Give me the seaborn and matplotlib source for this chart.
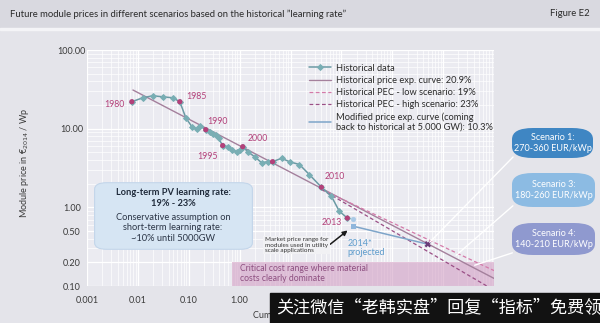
import matplotlib
matplotlib.use("Agg")
import matplotlib.pyplot as plt
import seaborn as sns
from matplotlib.patches import FancyBboxPatch, Rectangle
from matplotlib.ticker import FixedLocator, FixedFormatter, LogLocator, NullFormatter

# ---- data -------------------------------------------------------------
years = list(range(1980, 2014))
cum_gw = [0.0076, 0.0125, 0.0197, 0.0309, 0.0485, 0.0667, 0.0874, 0.115, 0.144, 0.164,
          0.216, 0.258, 0.296, 0.338, 0.387, 0.464, 0.582, 0.697, 0.873, 1.0,
          1.15, 1.44, 1.97, 2.70, 3.54, 4.43, 6.66, 9.56, 15.0, 23.6,
          40.6, 63.7, 91.4, 131.0]
price = [22.0, 24.7, 26.2, 25.4, 24.7, 22.0, 13.8, 10.6, 10.0, 10.9,
         9.7, 9.2, 8.6, 8.2, 7.5, 6.1, 5.9, 5.4, 5.1, 5.4,
         5.9, 5.1, 4.4, 3.7, 3.8, 3.8, 4.2, 3.8, 3.5, 2.6,
         1.8, 1.38, 0.89, 0.73]
marked_years = [1980, 1985, 1990, 1995, 2000, 2005, 2010, 2013]
labelled_years = [1980, 1985, 1990, 1995, 2000, 2010, 2013]

# price experience curves (straight on log-log axes: two end points each)
pec_gw, pec_price = [0.008, 100000], [31.0, 0.125]          # 20.9 %
low_gw, low_price = [40.6, 100000], [1.69, 0.157]           # 19 %
high_gw, high_price = [40.6, 100000], [1.69, 0.0885]        # 23 %
mod_gw, mod_price = [172, 5000], [0.575, 0.34]              # 10.3 %
proj_gw, proj_price = [172, 172], [0.72, 0.575]             # 2014* market range

band_gw = [0.7, 100000]
band_lo, band_hi = 0.1, 0.2

x_ticks = [1e-3, 1e-2, 1e-1, 1, 10, 100, 1000, 10000, 100000]
x_labels = ["0.001", "0.01", "0.10", "1.00", "", "", "", "", ""]
y_ticks = [0.1, 0.2, 0.5, 1, 10, 100]
y_labels = ["0.10", "0.20", "0.50", "1.00", "10.00", "100.00"]

scenarios = [("Scenario 1:\n270-360 EUR/kWp", "#3f86c3", (512, 128, 593, 158), (5000, 0.34)),
             ("Scenario 3:\n180-260 EUR/kWp", "#8cbbe3", (512, 173, 595, 207), (16400, 0.233)),
             ("Scenario 4:\n140-210 EUR/kWp", "#8f99cf", (512, 223, 595, 255), (37000, 0.179))]

# ---- style ------------------------------------------------------------
sns.set_theme(style="darkgrid")
plt.rcParams['font.family'] = ['Lato', 'DejaVu Sans']

W, H = 600, 323
def fx(px):
    return px / W
def fy(py):
    return 1 - py / H

BG = '#e4e4ea'
MAG = '#b3417a'
TEAL = '#79aeb4'

fig = plt.figure(figsize=(6, 3.23), dpi=100, facecolor=BG)

# title strip
fig.patches.append(Rectangle((0, fy(27)), 1, 27 / H, transform=fig.transFigure,
                             color='#d9d9e0', zorder=0))
fig.patches.append(Rectangle((0, fy(29.5)), 1, 2 / H, transform=fig.transFigure,
                             color='#f4f4f7', zorder=0))
fig.text(fx(10), fy(14), 'Future module prices in different scenarios based on the historical \u201dlearning rate\u201d',
         fontsize=6.8, color='#2a2a2a', va='center', ha='left')
fig.text(fx(590), fy(14), 'Figure E2', fontsize=6.8, color='#2a2a2a', va='center', ha='right')

ax = fig.add_axes([fx(87), fy(286), (494 - 87) / W, (286 - 50) / H])
ax.set_facecolor('#ebebf1')
ax.set_xscale('log')
ax.set_yscale('log')

# critical cost band
ax.fill_between(band_gw, band_lo, band_hi, color='#d29fc4', alpha=0.6, lw=0, zorder=1)
ax.text(1.0, 0.188, 'Critical cost range where material\ncosts clearly dominate',
        fontsize=6.2, color='#8d4f80', va='top', ha='left', zorder=2, linespacing=1.15)

# curves
sns.lineplot(x=cum_gw, y=price, ax=ax, color='#6b9aa4', lw=1.1, marker='D', markersize=3,
             markerfacecolor=TEAL, markeredgecolor=TEAL, label='Historical data',
             sort=False, estimator=None, zorder=4)
sns.lineplot(x=pec_gw, y=pec_price, ax=ax, color='#a4809c', lw=1.0,
             label='Historical price exp. curve: 20.9%', zorder=3)
sns.lineplot(x=low_gw, y=low_price, ax=ax, color='#d47aa9', lw=0.9, dashes=(3, 2),
             label='Historical PEC - low scenario: 19%', zorder=3)
sns.lineplot(x=high_gw, y=high_price, ax=ax, color='#9a4f86', lw=0.9, dashes=(3, 2),
             label='Historical PEC - high scenario: 23%', zorder=3)
sns.lineplot(x=mod_gw, y=mod_price, ax=ax, color='#7ea5c9', lw=1.1,
             label='Modified price exp. curve (coming\nback to historical at 5.000 GW): 10.3%', zorder=4)

# year markers
mk_x = [cum_gw[years.index(y)] for y in marked_years]
mk_y = [price[years.index(y)] for y in marked_years]
sns.scatterplot(x=mk_x, y=mk_y, ax=ax, color=MAG, s=14, edgecolor='none', legend=False, zorder=5)
sns.scatterplot(x=[mod_gw[1]], y=[mod_price[1]], ax=ax, color='#6a3a78', marker='X', s=22,
                edgecolor='none', legend=False, zorder=5)
sns.scatterplot(x=[proj_gw[0]], y=[proj_price[0]], ax=ax, color='#a9c9e6', s=12,
                edgecolor='#a9c9e6', legend=False, zorder=5)
sns.scatterplot(x=[proj_gw[1]], y=[proj_price[1]], ax=ax, color='#8fb6dc', marker='s', s=14,
                edgecolor='none', legend=False, zorder=5)

label_offsets = {1980: (-17, 3), 1985: (17, -5), 1990: (12, -8), 1995: (-15, 11),
                 2000: (15, -8), 2010: (13, -11), 2013: (-16, 4)}
for yr in labelled_years:
    dx, dy = label_offsets[yr]
    i = years.index(yr)
    ax.annotate(str(yr), (cum_gw[i], price[i]), xytext=(dx, -dy), textcoords='offset pixels',
                ha='center', va='center', fontsize=6.3, color=MAG, zorder=6)

ax.annotate('2014*\nprojected', (proj_gw[1], proj_price[1]), xytext=(-6, -13),
            textcoords='offset pixels', ha='left', va='top', fontsize=6.5,
            color='#5e9ccc', linespacing=1.0, zorder=6)

# market price note
ax.annotate('', xy=(proj_gw[1] * 0.85, proj_price[1] * 0.93), xycoords='data',
            xytext=(fx(328), fy(246)), textcoords='figure fraction',
            arrowprops=dict(arrowstyle='-|>', color='#1a1a1a', lw=1.1, mutation_scale=7),
            annotation_clip=False, zorder=6)
fig.text(fx(265), fy(245), 'Market price range for\nmodules used in utility\nscale applications',
         fontsize=4.6, color='#333333', va='center', ha='left', linespacing=1.05, zorder=7,
         bbox=dict(boxstyle='square,pad=0.25', fc='#f1f1f4', ec='none'))

# axes scales, ticks, grid
ax.set_xlim(1e-3, 1e5)
ax.set_ylim(0.1, 100)
ax.xaxis.set_major_locator(FixedLocator(x_ticks))
ax.xaxis.set_major_formatter(FixedFormatter(x_labels))
ax.yaxis.set_major_locator(FixedLocator(y_ticks))
ax.yaxis.set_major_formatter(FixedFormatter(y_labels))
ax.xaxis.set_minor_locator(LogLocator(base=10, subs=range(2, 10), numticks=20))
ax.yaxis.set_minor_locator(LogLocator(base=10, subs=range(2, 10), numticks=20))
ax.xaxis.set_minor_formatter(NullFormatter())
ax.yaxis.set_minor_formatter(NullFormatter())
ax.grid(which='major', color='white', lw=0.9)
ax.grid(which='minor', color='white', lw=0.5)
ax.tick_params(axis='both', which='both', length=0, labelsize=6.5, colors='#3a3a3a')
ax.tick_params(axis='y', pad=11)
ax.tick_params(axis='x', pad=7)
for lab in ax.get_yticklabels():
    lab.set_horizontalalignment('center')
for s in ax.spines.values():
    s.set_visible(False)

ax.set_ylabel('Module price in \u20ac$_{2014}$ / Wp', fontsize=6.5, color='#3a3a3a')
ax.yaxis.set_label_coords((31 - 87) / (494 - 87), 0.52)
ax.set_xlabel('Cumulative PV module production in GW', fontsize=6.5, color='#3a3a3a',
              ha='left')
ax.xaxis.set_label_coords((253 - 87) / (494 - 87), -0.105)

# legend
leg = ax.legend(loc='upper left', bbox_to_anchor=(fx(305), fy(60)), bbox_transform=fig.transFigure,
                frameon=False, fontsize=6.7, handlelength=2.4, handletextpad=0.5,
                labelspacing=0.35, borderaxespad=0)
for t in leg.get_texts():
    t.set_color('#2a2a2a')
    t.set_linespacing(1.05)

# left info box
fig.patches.append(FancyBboxPatch((fx(97), fy(248)), (250 - 97) / W, (248 - 184) / H,
                                  boxstyle='round,pad=0.004,rounding_size=0.02',
                                  transform=fig.transFigure, fc='#d6e5f3', ec='#c3d6ea',
                                  lw=0.8, zorder=6))
fig.text(fx(173), fy(198), 'Long-term PV learning rate:\n19% - 23%', fontsize=6.7, fontweight='bold',
         color='#1f2a3a', ha='center', va='center', linespacing=1.15, zorder=7)
fig.text(fx(173), fy(228), 'Conservative assumption on\nshort-term learning rate:\n~10% until 5000GW',
         fontsize=6.7, color='#2a3445', ha='center', va='center', linespacing=1.15, zorder=7)

# scenario boxes with connectors
for text, col, (x0, y0, x1, y1), target in scenarios:
    fig.patches.append(FancyBboxPatch((fx(x0), fy(y1)), (x1 - x0) / W, (y1 - y0) / H,
                                      boxstyle='round,pad=0.0,rounding_size=0.035',
                                      transform=fig.transFigure, fc=col, ec='none', zorder=6))
    fig.text(fx((x0 + x1) / 2), fy((y0 + y1) / 2), text, fontsize=6.5, color='white',
             ha='center', va='center', linespacing=1.2, zorder=7)
    ax.annotate('', xy=target, xycoords='data', xytext=(fx(x0 + 3), fy(y1 - 3)),
                textcoords='figure fraction', annotation_clip=False,
                arrowprops=dict(arrowstyle='-', color='white', lw=1.0), zorder=5)

# footer banner
fig.patches.append(Rectangle((fx(270), 0), (W - 270) / W, (H - 293) / H,
                             transform=fig.transFigure, color='#121212', zorder=20))
fig.text(fx(276), fy(308), '关注微信\u201c老韩实盘\u201d回复\u201c指标\u201d免费领取', fontsize=12.3,
         color='white', ha='left', va='center', zorder=21,
         family=['Noto Sans CJK SC', 'DejaVu Sans'])

fig.savefig('out.png', dpi=100, facecolor=BG)
